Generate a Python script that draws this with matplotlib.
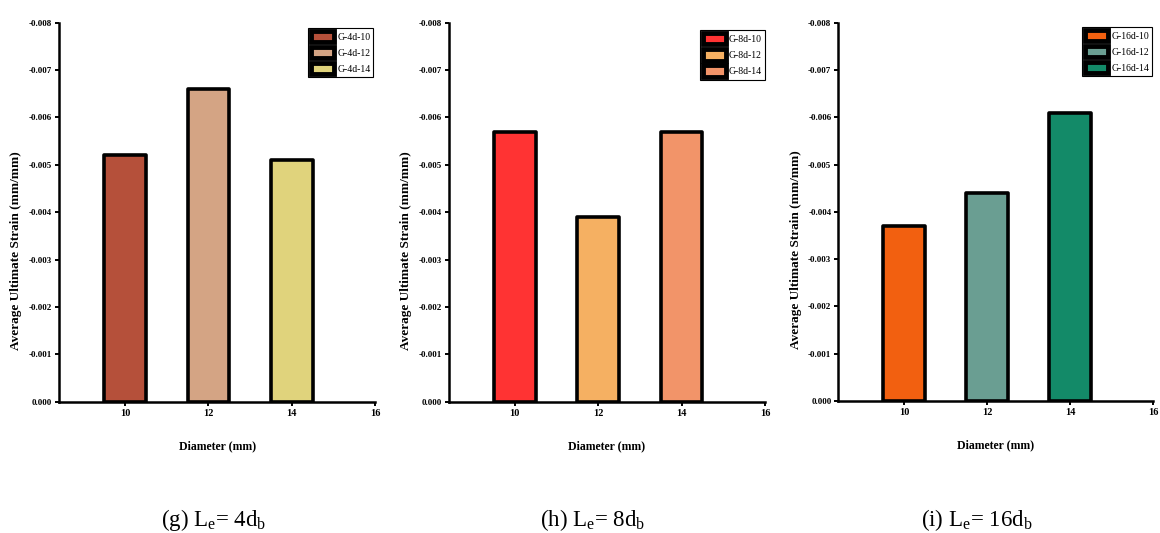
import matplotlib
matplotlib.use("Agg")
import matplotlib.pyplot as plt
from matplotlib.ticker import MultipleLocator, FuncFormatter

plt.rcParams['font.family'] = ['Liberation Serif', 'DejaVu Serif']
plt.rcParams['mathtext.fontset'] = 'custom'
plt.rcParams['mathtext.rm'] = 'Liberation Serif'
plt.rcParams['mathtext.it'] = 'Liberation Serif:italic'

diameters = [10, 12, 14]

strain_4d = [-0.0052, -0.0066, -0.0051]
strain_8d = [-0.0057, -0.0039, -0.0057]
strain_16d = [-0.0037, -0.0044, -0.0061]

labels_4d = ["G-4d-10", "G-4d-12", "G-4d-14"]
labels_8d = ["G-8d-10", "G-8d-12", "G-8d-14"]
labels_16d = ["G-16d-10", "G-16d-12", "G-16d-14"]

colors_4d = ["#B5503A", "#D4A484", "#E0D37C"]
colors_8d = ["#FF3333", "#F5B062", "#F29469"]
colors_16d = ["#F26010", "#6A9E92", "#138A68"]

captions = [r"(g) L$_{\mathrm{e}}$= 4d$_{\mathrm{b}}$",
            r"(h) L$_{\mathrm{e}}$= 8d$_{\mathrm{b}}$",
            r"(i) L$_{\mathrm{e}}$= 16d$_{\mathrm{b}}$"]
caption_x = [0.184, 0.511, 0.842]

x_ticks = [10, 12, 14, 16]

fig = plt.figure(figsize=(11.6, 5.33), dpi=100)

panels = [
    (strain_4d, labels_4d, colors_4d, [0.051, 0.2463, 0.2725, 0.711], (0.994, 0.986)),
    (strain_8d, labels_8d, colors_8d, [0.387, 0.2463, 0.2725, 0.711], (1.0, 0.98)),
    (strain_16d, labels_16d, colors_16d, [0.7227, 0.2478, 0.2713, 0.7095], (0.997, 0.989)),
]

fmt = FuncFormatter(lambda v, p: "0.000" if abs(v) < 1e-9 else f"{v:.3f}")

for (vals, labs, cols, rect, anchor), cap, cx in zip(panels, captions, caption_x):
    ax = fig.add_axes(rect)
    for d, v, c, lab in zip(diameters, vals, cols, labs):
        ax.bar(d, v, width=1.0, color=c, edgecolor='black', linewidth=2.6,
               joinstyle='round', label=lab)
    ax.set_xlim(8.42, 16)
    ax.set_ylim(0, -0.008)
    ax.set_xticks(x_ticks)
    ax.yaxis.set_major_locator(MultipleLocator(0.001))
    ax.yaxis.set_major_formatter(fmt)
    ax.spines['top'].set_visible(False)
    ax.spines['right'].set_visible(False)
    for s in ('left', 'bottom'):
        ax.spines[s].set_linewidth(1.8)
    ax.tick_params(axis='both', direction='out', width=1.4, length=3, pad=2)
    ax.tick_params(axis='y', labelsize=6.5)
    ax.tick_params(axis='x', labelsize=7.5)
    for t in ax.get_yticklabels() + ax.get_xticklabels():
        t.set_fontweight('bold')
    ax.set_ylabel("Average Ultimate Strain (mm/mm)", fontsize=9.5, fontweight='bold')
    ax.yaxis.set_label_coords(-0.117, 0.40)
    ax.set_xlabel("Diameter (mm)", fontsize=8.5, fontweight='bold', labelpad=16)
    leg = ax.legend(loc='upper right', bbox_to_anchor=anchor, fontsize=7,
                    frameon=True, fancybox=False, edgecolor='black', framealpha=1,
                    borderpad=0.3, handlelength=2.4, handleheight=1.4,
                    handletextpad=0.3, labelspacing=0.5, borderaxespad=0.0)
    leg.get_frame().set_linewidth(0.8)
    for p in leg.get_patches():
        p.set_linewidth(3.5)
    fig.text(cx, 0.014, cap, ha='center', va='baseline', fontsize=16.5)

fig.savefig("out.png", dpi=100)
